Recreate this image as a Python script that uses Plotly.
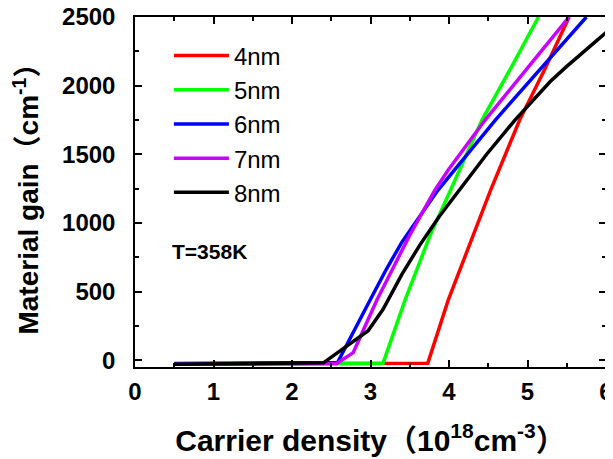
import plotly.graph_objects as go

# Carrier density (1e18 cm^-3) and material gain (cm^-1)
x_4nm = [0.5, 1.5, 2.5, 3.0, 3.73, 3.99, 4.53, 4.90, 5.22, 5.53]
g_4nm = [-28, -27, -26, -25, -22, 437, 1239, 1749, 2120, 2500]

x_5nm = [0.5, 1.5, 2.5, 3.16, 3.44, 3.76, 4.02, 4.42, 4.80, 5.14]
g_5nm = [-27, -26, -24, -22, 437, 911, 1239, 1749, 2140, 2500]

x_6nm = [0.5, 1.5, 2.58, 2.96, 3.2, 3.40, 3.86, 4.59, 5.17, 5.75]
g_6nm = [-25, -22, -18, 400, 660, 860, 1239, 1749, 2120, 2500]

x_7nm = [0.5, 1.5, 2.57, 2.78, 3.08, 3.50, 3.82, 3.99, 4.46, 5.03, 5.53]
g_7nm = [-30, -28, -25, 55, 437, 911, 1239, 1385, 1749, 2150, 2500]

x_8nm = [0.5, 1.5, 2.40, 2.97, 3.16, 3.40, 3.63, 3.88, 4.12, 4.48, 4.84, 5.29, 5.50, 6.0]
g_8nm = [-30, -25, -20, 214, 370, 625, 840, 1050, 1230, 1500, 1749, 2030, 2140, 2386]

names = ["4nm", "5nm", "6nm", "7nm", "8nm"]
colors = ["#ff0000", "#00ff00", "#0000ff", "#cc00ff", "#000000"]
xs = [x_4nm, x_5nm, x_6nm, x_7nm, x_8nm]
gs = [g_4nm, g_5nm, g_6nm, g_7nm, g_8nm]

x_ticks = [0, 1, 2, 3, 4, 5, 6]
y_ticks = [0, 500, 1000, 1500, 2000, 2500]

FONT = "Arial, Liberation Sans, Noto Sans CJK SC, sans-serif"

fig = go.Figure()
for n, c, x, g in zip(names, colors, xs, gs):
    fig.add_trace(go.Scatter(x=x, y=g, mode="lines", name=n, legendgroup=n,
                             line=dict(color=c, width=3.5)))

axis_common = dict(
    showline=True, linecolor="black", linewidth=1.5, mirror="allticks",
    ticks="inside", ticklen=7, tickwidth=1.5, tickcolor="black",
    showgrid=False, zeroline=False, automargin=False,
    ticklabeloverflow="allow",
    tickfont=dict(family=FONT, size=24, color="black", weight="bold"),
)

fig.update_xaxes(
    range=[0, 6], tickvals=x_ticks, ticktext=[str(v) for v in x_ticks],
    minor=dict(ticks="inside", ticklen=4, tickwidth=1.5, tickcolor="black", dtick=0.5),
    title=dict(text="Carrier density（10<sup>18</sup>cm<sup>-3</sup>）",
               font=dict(family=FONT, size=30, color="black", weight="bold"), standoff=26),
    ticklabelstandoff=2,
    **axis_common,
)
fig.update_yaxes(
    range=[-50, 2500], tickvals=y_ticks, ticktext=[str(v) for v in y_ticks],
    minor=dict(ticks="inside", ticklen=4, tickwidth=1.5, tickcolor="black", dtick=250),
    title=dict(text="Material gain（cm<sup>-1</sup>）",
               font=dict(family=FONT, size=28, color="black", weight="bold"), standoff=17),
    ticklabelstandoff=13,
    **axis_common,
)

fig.add_annotation(x=0.44, y=790, xref="x", yref="y", text="T=358K", showarrow=False,
                   xanchor="left", yanchor="middle",
                   font=dict(family=FONT, size=21, color="black", weight="bold"))

# the page body adds an 8px offset; size the figure so the plot area lands where the reference has it
fig.update_layout(
    width=605, height=451,
    margin=dict(l=127, r=7, t=9, b=92),
    paper_bgcolor="white", plot_bgcolor="white",
    showlegend=True,
    legend=dict(x=0.072, y=0.953, xanchor="left", yanchor="top",
                font=dict(family=FONT, size=24, color="black"),
                bgcolor="rgba(0,0,0,0)", tracegroupgap=0, itemwidth=55),
)

fig.write_html("out.html")
